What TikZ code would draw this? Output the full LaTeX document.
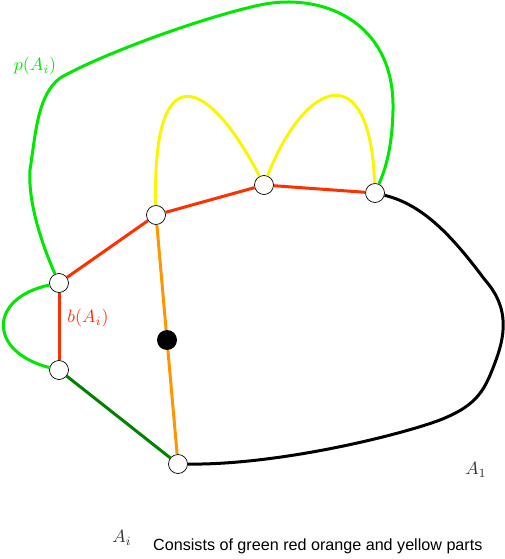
\documentclass[tikz,border=0pt]{standalone}
\usepackage{amsmath}
\usepackage{fontspec}
\usepackage{tikz}
\usepackage{xcolor}
\usetikzlibrary{positioning, shapes}
\newfontfamily\capfont{Liberation Sans}
\definecolor{limeg}{RGB}{0,232,0}
\definecolor{darkg}{RGB}{0,130,0}
\definecolor{redl}{RGB}{255,48,0}
\definecolor{orangel}{RGB}{255,150,0}
\definecolor{yellowl}{RGB}{250,245,0}

\begin{document}
\begin{tikzpicture}[x=1bp, y=-1bp,
    vert/.style={circle, draw=black, fill=white, line width=0.7bp, inner sep=0pt, minimum size=19bp},
    edge/.style={line width=3bp},
    mathlbl/.style={scale=1.8, transform shape, inner sep=0pt}]
            \useasboundingbox (0,0) rectangle (505,559);
            \node[vert] (a) at (59, 283) {};
            \node[vert] (b) at (59, 370) {};
            \node[vert] (c) at (178, 464) {};
            \node[vert] (d) at (156, 215) {};
            \node[vert] (e) at (264, 185) {};
            \node[vert] (f) at (375, 193) {};
            \node[circle, fill=black, inner sep=0pt, minimum size=20bp] (dot) at (167, 340) {};

            \draw[edge, redl] (a) -- (d);
            \draw[edge, redl] (d) -- (e);
            \draw[edge, redl] (e) -- (f);
            \draw[edge, redl] (a) -- (b);
            \draw[edge, orangel] (d) -- (dot);
            \draw[edge, orangel] (dot) -- (c);
            \draw[edge, darkg] (b) -- (c);
            \draw[edge, limeg] (a) .. controls (-12, 298) and (-12, 352) .. (b);
            \draw[edge, yellowl] (d) .. controls (152, 50) and (210, 80) .. (e);
            \draw[edge, yellowl] (e) .. controls (305, 80) and (370, 55) .. (f);
            \draw[edge, limeg] (a) .. controls (40, 240) and (28, 200) .. (30, 170)
                .. controls (36, 130) and (38, 95) .. (60, 78)
                .. controls (100, 55) and (200, 18) .. (260, 5)
                .. controls (320, -8) and (395, 20) .. (393, 110)
                .. controls (392, 150) and (385, 170) .. (f);
            \draw[edge, black] (f) .. controls (425, 205) and (455, 240) .. (485, 280)
                .. controls (507, 305) and (507, 330) .. (496, 360)
                .. controls (485, 390) and (478, 405) .. (440, 420)
                .. controls (400, 435) and (280, 465) .. (c);

            \node[mathlbl, limeg] (plbl) at (35, 66) {$p(A_i)$};
            \node[mathlbl, redl] (blbl) at (88, 318) {$b(A_i)$};
            \node[mathlbl, black!80] (aone) at (476, 470) {$A_1$};
            \node[mathlbl, black!80] (ai) at (122, 538) {$A_i$};
            \node[anchor=west, inner sep=0pt, font=\capfont\fontsize{16.2}{19}\selectfont] (cap) at (153, 546) {Consists of green red orange and yellow parts};
        \end{tikzpicture}
\end{document}
